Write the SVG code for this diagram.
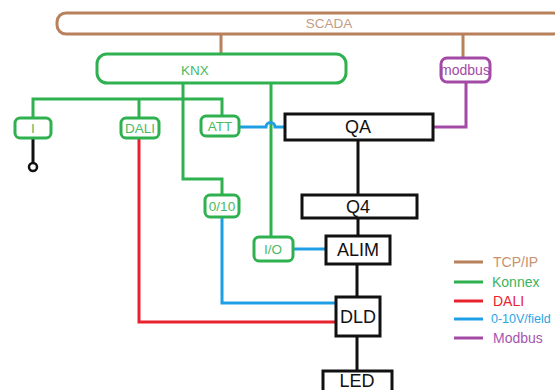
<svg xmlns="http://www.w3.org/2000/svg" width="555" height="390" viewBox="0 0 555 390">
<style>
text{font-family:"Liberation Sans",Arial,sans-serif;text-anchor:middle;dominant-baseline:central}
.g{fill:#fff;stroke:#2fb150;stroke-width:3}
.gt{fill:#4aba62;font-size:13.5px}
.k{fill:#fff;stroke:#111;stroke-width:3}
.kt{fill:#111;font-size:18px}
.c{fill:none;stroke-width:3}
.br{stroke:#b9805c}.gr{stroke:#2fb150}.rd{stroke:#e8222e}.bl{stroke:#1e9fe5}.pu{stroke:#a34aa6}.bk{stroke:#111}
.lg{font-size:14px;text-anchor:start}
</style>
<rect width="555" height="390" fill="#fff"/>
<g id="connectors">
<path class="c br" d="M221 34V54M463 34V58"/>
<path class="c pu" d="M466 82V127H433"/>
<path class="c gr" d="M183 83V179H222V195M33 118V99H222V116M139 99V118M271 83V237"/>
<path class="c bl" d="M239 127H266A4.5 4.5 0 0 1 275 127H285"/>
<path class="c bl" d="M222 217V303H336M293 249H325"/>
<path class="c rd" d="M139 138V322H336"/>
<path class="c bk" d="M358 140V195M358 218V236M357 264V297M357 336V371M33 138V163"/>
<circle cx="33" cy="167" r="4" fill="#fff" stroke="#111" stroke-width="2.5"/>
</g>
<g id="scada"><rect x="57" y="13" width="505" height="21" rx="9" fill="#fff" stroke="#b9805c" stroke-width="3"/><text x="329" y="23" fill="#c49c84" font-size="13.5">SCADA</text></g>
<g id="knx"><rect class="g" x="97" y="54" width="249" height="29" rx="10"/><text class="gt" x="195" y="70">KNX</text></g>
<g id="modbus"><rect x="441" y="58" width="49" height="24" rx="6" fill="#fff" stroke="#a34aa6" stroke-width="3"/><text x="465" y="70" fill="#a34aa6" font-size="14">modbus</text></g>
<g id="i"><rect class="g" x="15" y="118" width="36" height="20" rx="5"/><text class="gt" x="33" y="128">I</text></g>
<g id="dali"><rect class="g" x="121" y="118" width="38" height="20" rx="5"/><text class="gt" x="140" y="128" font-size="12">DALI</text></g>
<g id="att"><rect class="g" x="201" y="116" width="38" height="20" rx="5"/><text class="gt" x="220" y="126">ATT</text></g>
<g id="d010"><rect class="g" x="205" y="195" width="34" height="22" rx="5"/><text class="gt" x="222" y="206">0/10</text></g>
<g id="io"><rect class="g" x="254" y="237" width="39" height="24" rx="5"/><text class="gt" x="273" y="249">I/O</text></g>
<g id="qa"><rect class="k" x="285" y="114" width="148" height="26"/><text class="kt" x="358" y="127">QA</text></g>
<g id="q4"><rect class="k" x="302" y="195" width="115" height="23"/><text class="kt" x="358" y="207">Q4</text></g>
<g id="alim"><rect class="k" x="326" y="236" width="64" height="28"/><text class="kt" x="358" y="250">ALIM</text></g>
<g id="dld"><rect class="k" x="336" y="297" width="44" height="39"/><text class="kt" x="358" y="317">DLD</text></g>
<g id="led"><rect class="k" x="323" y="371" width="69" height="25"/><text class="kt" x="357" y="381">LED</text></g>
<g id="legend">
<path class="c br" d="M454 262H483"/><text class="lg" x="493" y="262" fill="#c8916e">TCP/IP</text>
<path class="c gr" d="M454 282H483"/><text class="lg" x="492" y="282" fill="#3cb45a">Konnex</text>
<path class="c rd" d="M454 301H483"/><text class="lg" x="493" y="301" fill="#e8222e">DALI</text>
<path class="c bl" d="M454 319H483"/><text class="lg" x="491" y="319" fill="#2aa5e5" style="font-size:12.5px">0-10V/field</text>
<path class="c pu" d="M454 338H483"/><text class="lg" x="493" y="338" fill="#a455b0">Modbus</text>
</g>
</svg>
